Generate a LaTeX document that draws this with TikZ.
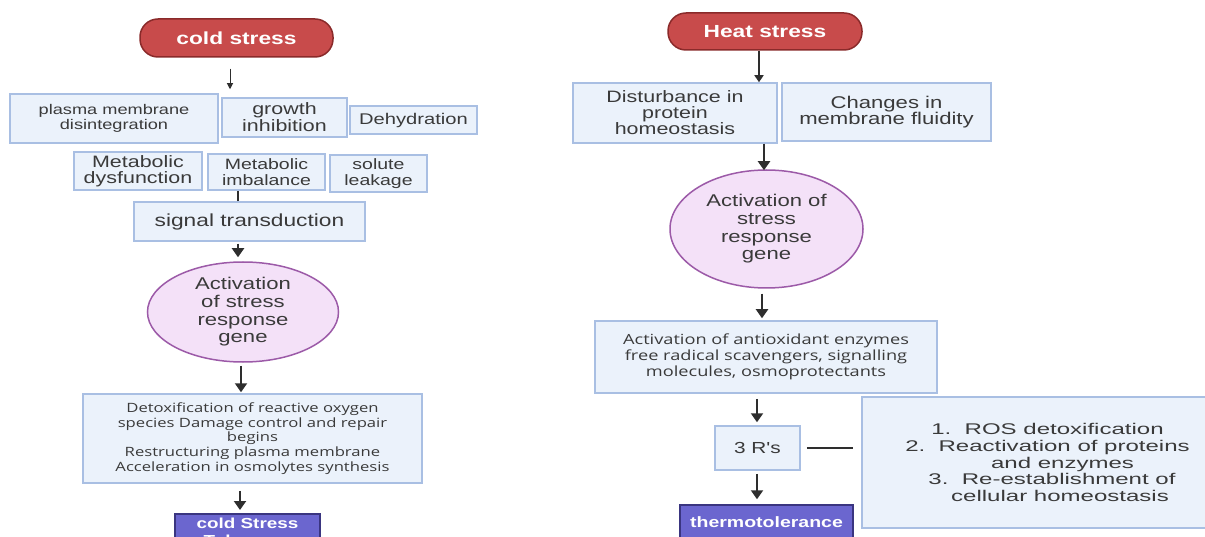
\documentclass[tikz,border=0pt]{standalone}
\usepackage{fontspec}
\usetikzlibrary{arrows.meta,shapes.geometric}
\newfontfamily\fa[FakeStretch=1.3]{Liberation Sans}
\newfontfamily\fb[FakeStretch=1.3]{Open Sans}
\newfontfamily\fc[FakeStretch=1.55]{Liberation Sans}
\definecolor{redfill}{HTML}{C84B4B}
\definecolor{redline}{HTML}{8A2A2A}
\definecolor{bfill}{HTML}{EBF2FB}
\definecolor{bline}{HTML}{A9BFE3}
\definecolor{pfill}{HTML}{F4E1F8}
\definecolor{pline}{HTML}{9C5AA8}
\definecolor{vfill}{HTML}{6B66CF}
\definecolor{vline}{HTML}{3A3580}
\definecolor{txt}{HTML}{3A3A3A}
\definecolor{arrc}{HTML}{2E2E2E}
\tikzset{
  pill/.style={draw=redline, fill=redfill, line width=1.5pt, rounded corners=18pt, inner sep=0pt, text=white, font={\fa\bfseries\fontsize{17.5}{18}\selectfont}},
  bluebox/.style={draw=bline, fill=bfill, line width=1.5pt, inner sep=0pt, text=txt, align=center},
  gene/.style={ellipse, draw=pline, fill=pfill, line width=1.5pt, inner sep=0pt, text=txt, align=center, font={\fa\fontsize{17}{17.6}\selectfont}},
  vbox/.style={draw=vline, fill=vfill, line width=1.5pt, inner sep=0pt, text=white, align=center},
  thkarr/.style={draw=arrc, line width=2pt, -{Triangle[width=12pt,length=9pt]}},
  thinarr/.style={draw=arrc, line width=1pt, -{Triangle[width=6pt,length=6pt]}},
  midarr/.style={draw=arrc, line width=1.5pt, -{Triangle[width=9pt,length=7pt]}},
  thkline/.style={draw=arrc, line width=2pt},
  plainline/.style={draw=arrc, line width=1.2pt},
}
\begin{document}
\begin{tikzpicture}[x=1pt,y=-1pt]
\clip (0,0) rectangle (1205,537);
\fill[white] (0,0) rectangle (1205,537);
% ---------- left: cold stress ----------
\node[pill, minimum width=193pt, minimum height=38pt] (cs) at (236.5,38) {cold stress};
\node[bluebox, minimum width=208pt, minimum height=49pt, font={\fa\fontsize{14}{15}\selectfont}] (pm) at (114,118.5) {plasma membrane\\disintegration};
\node[bluebox, minimum width=125pt, minimum height=39pt, font={\fa\fontsize{16.5}{17}\selectfont}] (gi) at (284.5,117.5) {growth\\inhibition};
\node[bluebox, minimum width=127pt, minimum height=28pt, font={\fa\fontsize{15.5}{16}\selectfont}] (dh) at (413.5,120) {Dehydration};
\node[bluebox, minimum width=128pt, minimum height=38pt, font={\fa\fontsize{16.5}{16.5}\selectfont}] (md) at (138,171) {Metabolic\\dysfunction};
\node[bluebox, minimum width=117pt, minimum height=36pt, font={\fa\fontsize{15}{15.5}\selectfont}] (mi) at (266.5,172) {Metabolic\\imbalance};
\node[bluebox, minimum width=97pt, minimum height=37pt, font={\fa\fontsize{15}{16}\selectfont}] (sl) at (378.5,173.5) {solute\\leakage};
\node[bluebox, minimum width=231pt, minimum height=39pt, font={\fa\fontsize{17.5}{18}\selectfont}] (st) at (249.5,221.5) {signal transduction};
\node[gene, minimum width=191pt, minimum height=100pt] (ge) at (243,312) {Activation\\of stress\\response\\gene};
\node[bluebox, minimum width=339pt, minimum height=89pt, font={\fb\fontsize{12.8}{14.6}\selectfont}] (dt) at (252.5,438.5) {Detoxification of reactive oxygen\\species Damage control and repair\\begins\\Restructuring plasma membrane\\Acceleration in osmolytes synthesis};
\node[vbox, minimum width=145pt, inner ysep=4pt, anchor=north, font={\fa\bfseries\fontsize{14.5}{17}\selectfont}] (ct) at (247.5,513) {cold Stress\\Tolerance};
\draw[thinarr, shorten <=11pt, shorten >=8pt] ([xshift=-6.5pt]cs.south) -- ([xshift=-6.5pt]cs.south |- gi.north);
\draw[thkline] ([xshift=-11.5pt]st.north) -- ([xshift=-11.5pt]st.north |- mi.south);
\draw[thkarr, shorten <=2pt, shorten >=4pt] ([xshift=-11.5pt]st.south) -- ([xshift=-11.5pt]st.south |- ge.north);
\draw[thkarr, shorten <=3pt, shorten >=1pt] (ge.south -| 241,0) -- (dt.north -| 241,0);
\draw[thkarr, shorten <=7pt, shorten >=3pt] (dt.south -| 240,0) -- (ct.north -| 240,0);
% ---------- right: heat stress ----------
\node[pill, minimum width=194pt, minimum height=37pt] (hs) at (765,31.5) {Heat stress};
\node[bluebox, minimum width=204pt, minimum height=60pt, font={\fa\fontsize{16.5}{16}\selectfont}] (db) at (675,113) {Disturbance in\\protein\\homeostasis};
\node[bluebox, minimum width=209pt, minimum height=58pt, font={\fa\fontsize{17}{16.5}\selectfont}] (cm) at (886.5,112) {Changes in\\membrane fluidity};
\node[gene, minimum width=193pt, minimum height=118pt] (ge2) at (766.5,229) {Activation of\\stress\\response\\gene};
\node[bluebox, minimum width=342pt, minimum height=72pt, font={\fb\fontsize{14}{16}\selectfont}] (ao) at (766,357) {Activation of antioxidant enzymes\\free radical scavengers, signalling\\molecules, osmoprotectants};
\node[bluebox, minimum width=85pt, minimum height=44pt, font={\fa\fontsize{16}{16}\selectfont}] (rr) at (757.5,448) {3 R's};
\node[bluebox, minimum width=346pt, minimum height=131pt, font={\fc\fontsize{15.5}{16.9}\selectfont}] (ls) at (1035,462.5) {\hspace*{25pt}1.\ \ ROS detoxification\\\hspace*{25pt}2.\ \ Reactivation of proteins\\\hspace*{55pt}and enzymes\\\hspace*{34pt}3.\ \ Re-establishment of\\\hspace*{50pt}cellular homeostasis};
\node[vbox, minimum width=173pt, minimum height=34pt, font={\fa\bfseries\fontsize{15}{17}\selectfont}] (th) at (766.5,522) {thermotolerance};
\draw[midarr] (hs.south -| 759,0) -- (db.north -| 759,0);
\draw[thkarr] (db.south -| 764,0) -- ([yshift=-1pt]ge2.north -| 764,0);
\draw[thkarr, shorten <=5pt, shorten >=2pt] (ge2.south -| 762,0) -- (ao.north -| 762,0);
\draw[thkarr, shorten <=5pt, shorten >=3pt] (ao.south -| 757,0) -- (rr.north -| 757,0);
\draw[thkarr, shorten <=3pt, shorten >=5pt] (rr.south -| 757,0) -- (th.north -| 757,0);
\draw[plainline, shorten <=6pt, shorten >=8pt] (rr.east) -- (rr.east -| ls.west);
\end{tikzpicture}
\end{document}
